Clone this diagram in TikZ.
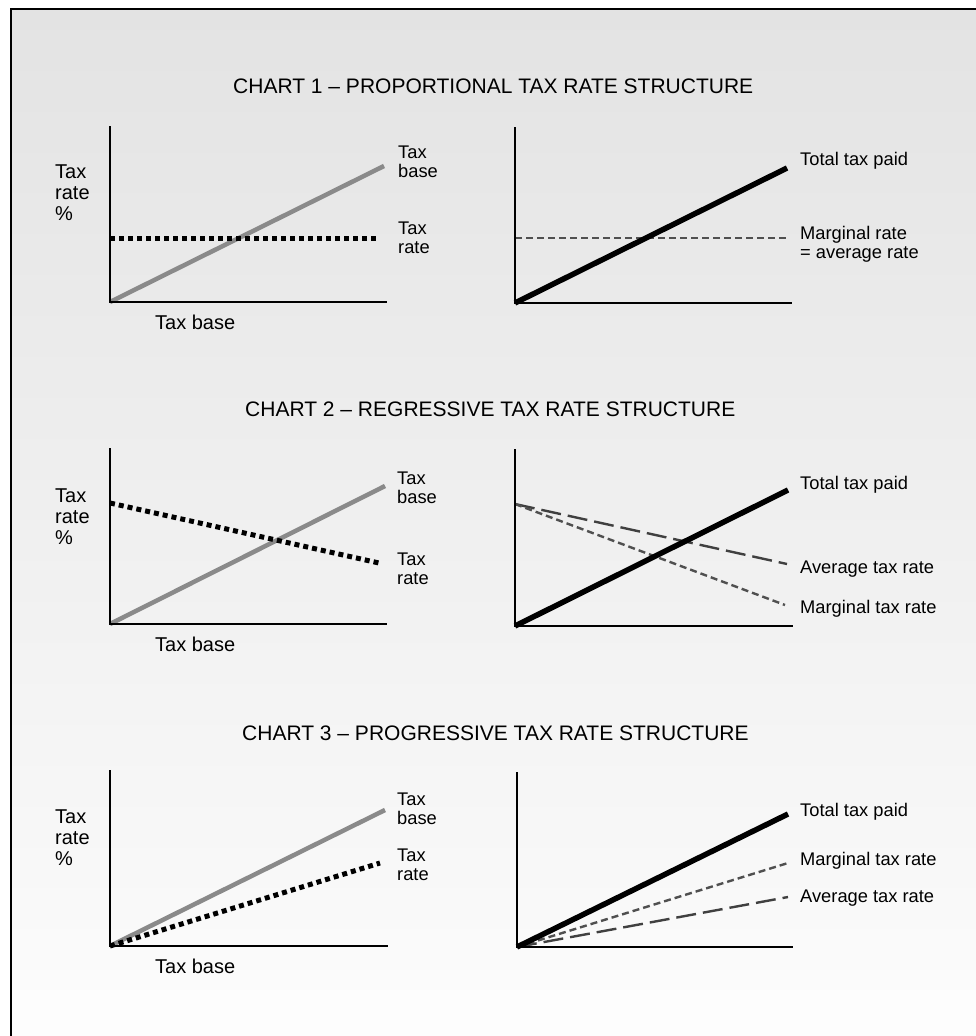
\documentclass[tikz,border=0pt]{standalone}
\usepackage{fontspec}
\setmainfont{Liberation Sans}
\definecolor{bgtop}{HTML}{E3E3E3}
\definecolor{bgbot}{HTML}{FBFBFB}
\definecolor{basegray}{HTML}{8A8A8A}
\definecolor{dashgray}{HTML}{505050}
\definecolor{longgray}{HTML}{404040}
\tikzset{
  axisline/.style={line width=2.6pt, black, line join=miter},
  baseline/.style={line width=4.5pt, basegray},
  ratedot/.style={line width=5pt, black, dash pattern=on 5pt off 4pt},
  totalline/.style={line width=5.5pt, black},
  margdash/.style={line width=2.4pt, dashgray, dash pattern=on 7pt off 4pt},
  avgdash/.style={line width=2.4pt, longgray, dash pattern=on 20pt off 7pt},
  ttl/.style={font=\fontsize{21}{25}\selectfont, anchor=west, inner sep=0pt},
  lbl/.style={font=\fontsize{20}{21}\selectfont, align=left, anchor=north west, inner sep=0pt},
  rlbl/.style={font=\fontsize{18.3}{19}\selectfont, align=left, anchor=north west, inner sep=0pt},
  xlbl/.style={font=\fontsize{20}{24}\selectfont, anchor=west, inner sep=0pt}
}
\begin{document}
\begin{tikzpicture}[x=1pt,y=-1pt]
\useasboundingbox (0,0) rectangle (976,1036);
\clip (0,0) rectangle (976,1036);
% background
\fill[white] (0,0) rectangle (976,1036);
\shade[top color=bgtop, bottom color=bgbot] (11,9) rectangle (990,990);
\fill[bgbot!60!white] (11,990) rectangle (990,1050);
% frame
\draw[line width=2pt, black] (11,1050) -- (11,9) -- (990,9);

% ================= CHART 1 =================
\node[ttl] (title1) at (233,86) {CHART 1 -- PROPORTIONAL TAX RATE STRUCTURE};
% left
\coordinate (o1l) at (110,302);
\coordinate (y1l) at (110,126);
\coordinate (x1l) at (387,302);
\coordinate (b1l) at (384,166);
\coordinate (r1s) at (110,238);
\coordinate (r1e) at (378,238);
\draw[baseline] (o1l) -- (b1l);
\draw[ratedot] (r1s) -- (r1e);
\draw[axisline] (y1l) -- (o1l) -- (x1l);
\node[lbl] (ylab1) at (55,165) {Tax\\rate\\\%};
\node[xlbl] (xlab1) at (155,322) {Tax base};
\node[rlbl] (blab1) at (398,145.5) {Tax\\base};
\node[rlbl] (rlab1) at (398,221.5) {Tax\\rate};
% right
\coordinate (o1r) at (515,303);
\coordinate (y1r) at (515,127);
\coordinate (x1r) at (792,303);
\coordinate (t1r) at (787,168);
\coordinate (m1s) at (515,238);
\coordinate (m1e) at (787,238);
\draw[margdash] (m1s) -- (m1e);
\draw[totalline] (o1r) -- (t1r);
\draw[axisline] (y1r) -- (o1r) -- (x1r);
\node[rlbl] (tlab1) at (800,152.5) {Total tax paid};
\node[rlbl] (mlab1) at (800,226.5) {Marginal rate\\= average rate};

% ================= CHART 2 =================
\node[ttl] (title2) at (245,409) {CHART 2 -- REGRESSIVE TAX RATE STRUCTURE};
% left
\coordinate (o2l) at (110,624);
\coordinate (y2l) at (110,448);
\coordinate (x2l) at (387,624);
\coordinate (b2l) at (385,486);
\coordinate (r2s) at (110,503);
\coordinate (r2e) at (379,563);
\draw[baseline] (o2l) -- (b2l);
\draw[ratedot] (r2s) -- (r2e);
\draw[axisline] (y2l) -- (o2l) -- (x2l);
\node[lbl] (ylab2) at (55,489) {Tax\\rate\\\%};
\node[xlbl] (xlab2) at (155,644) {Tax base};
\node[rlbl] (blab2) at (397,471.5) {Tax\\base};
\node[rlbl] (rlab2) at (397,552.5) {Tax\\rate};
% right
\coordinate (o2r) at (515,626);
\coordinate (y2r) at (515,449);
\coordinate (x2r) at (793,626);
\coordinate (t2r) at (788,490);
\coordinate (a2s) at (515,504);
\coordinate (a2e) at (787,564);
\coordinate (m2e) at (785,605);
\draw[avgdash] (a2s) -- (a2e);
\draw[margdash] (a2s) -- (m2e);
\draw[totalline] (o2r) -- (t2r);
\draw[axisline] (y2r) -- (o2r) -- (x2r);
\node[rlbl] (tlab2) at (800,476.5) {Total tax paid};
\node[rlbl] (alab2) at (800,560.5) {Average tax rate};
\node[rlbl] (mlab2) at (800,600.5) {Marginal tax rate};

% ================= CHART 3 =================
\node[ttl] (title3) at (242,733) {CHART 3 -- PROGRESSIVE TAX RATE STRUCTURE};
% left
\coordinate (o3l) at (110,946);
\coordinate (y3l) at (110,770);
\coordinate (x3l) at (388,946);
\coordinate (b3l) at (385,810);
\coordinate (r3e) at (380,863);
\draw[baseline] (o3l) -- (b3l);
\draw[ratedot] (o3l) -- (r3e);
\draw[axisline] (y3l) -- (o3l) -- (x3l);
\node[lbl] (ylab3) at (55,810) {Tax\\rate\\\%};
\node[xlbl] (xlab3) at (155,966) {Tax base};
\node[rlbl] (blab3) at (397,792.5) {Tax\\base};
\node[rlbl] (rlab3) at (397,848.5) {Tax\\rate};
% right
\coordinate (o3r) at (517,947);
\coordinate (y3r) at (517,772);
\coordinate (x3r) at (793,947);
\coordinate (t3r) at (788,814);
\coordinate (m3e) at (788,863);
\coordinate (a3e) at (788,897);
\draw[avgdash] (o3r) -- (a3e);
\draw[margdash] (o3r) -- (m3e);
\draw[totalline] (o3r) -- (t3r);
\draw[axisline] (y3r) -- (o3r) -- (x3r);
\node[rlbl] (tlab3) at (800,803.5) {Total tax paid};
\node[rlbl] (mlab3) at (800,852.5) {Marginal tax rate};
\node[rlbl] (alab3) at (800,889.5) {Average tax rate};
\end{tikzpicture}
\end{document}
